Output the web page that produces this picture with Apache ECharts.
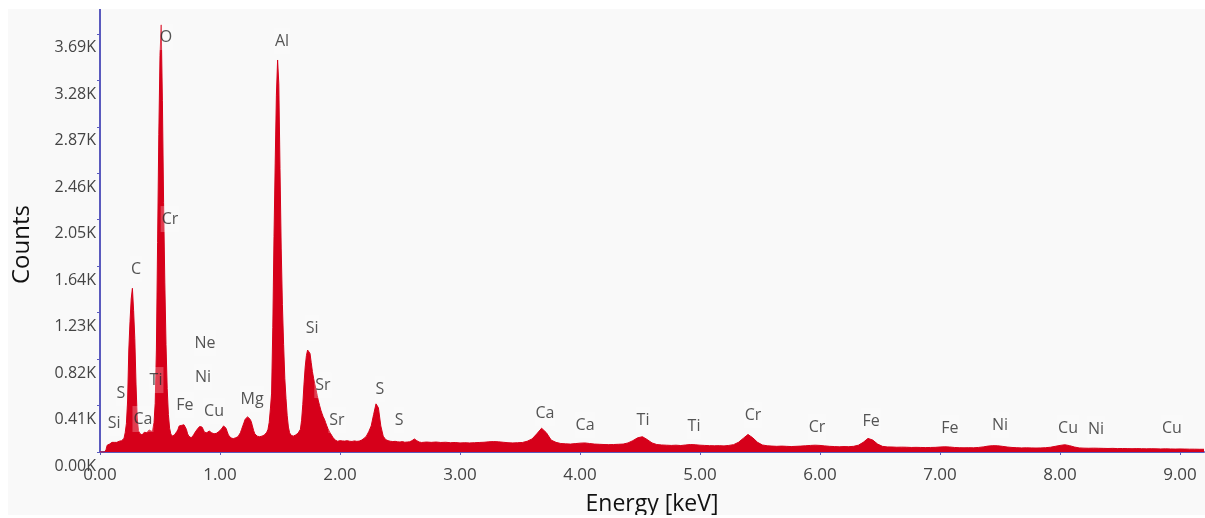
<!DOCTYPE html>
<html>
<head>
<meta charset="utf-8">
<title>EDS spectrum</title>
<script src="https://cdn.jsdelivr.net/npm/echarts@6.0.0/dist/echarts.min.js"></script>
<style>
	html, body { margin: 0; padding: 0; background: #ffffff; }
	#spectrum { position: absolute; left: 8px; top: 9px; width: 1197px; height: 506px; background: #f9f9f9; }
</style>
</head>
<body>
<div id="spectrum"></div>
<script>
// channel calibration of the three parts of the spectrum (keV)
var lowStart = 0.00, lowStep = 0.01;
var midStart = 2.00, midStep = 0.02;
var highStart = 2.72, highStep = 0.04;

// counts 0.00 - 1.99 keV
var countsLow = [
	0, 0, 0, 0, 0, 20, 60, 75, 70, 80,
	85, 80, 85, 90, 85, 90, 95, 90, 100, 110,
	120, 170, 250, 450, 900, 1150, 1350, 1445, 1250, 1000,
	600, 300, 190, 165, 160, 150, 165, 175, 160, 170,
	180, 195, 185, 180, 200, 260, 430, 900, 1850, 2800,
	3500, 3770, 3100, 2200, 1500, 950, 560, 330, 210, 160,
	140, 130, 150, 165, 180, 200, 230, 240, 235, 245,
	240, 230, 200, 160, 140, 130, 125, 135, 150, 170,
	180, 200, 215, 225, 210, 220, 200, 175, 165, 170,
	175, 185, 180, 170, 165, 160, 155, 165, 175, 180,
	190, 200, 215, 230, 225, 210, 180, 150, 135, 125,
	120, 118, 122, 125, 130, 135, 150, 170, 200, 230,
	260, 290, 305, 310, 300, 290, 270, 230, 190, 160,
	150, 140, 135, 135, 138, 140, 145, 150, 160, 175,
	200, 260, 380, 520, 1100, 1900, 2550, 3150, 3460, 3250,
	2500, 1800, 1300, 950, 650, 470, 320, 220, 170, 150,
	140, 140, 145, 150, 155, 165, 180, 200, 280, 420,
	600, 750, 850, 900, 915, 870, 790, 710, 650, 600,
	550, 500, 450, 410, 370, 340, 310, 290, 260, 230,
	205, 185, 165, 150, 130, 115, 105, 100, 95, 92
];
// counts 2.00 - 2.70 keV
var countsMid = [
	100, 98, 96, 100, 95, 93, 98, 94, 96, 105,
	120, 140, 180, 230, 330, 425, 390, 230, 140, 110,
	100, 95, 92, 94, 90, 88, 92, 86, 88, 90,
	100, 115, 100, 88, 84, 86
];
// counts 2.72 - 9.20 keV
var countsHigh = [
	88, 85, 88, 84, 86, 82, 84, 80, 82, 80,
	82, 84, 86, 90, 92, 90, 86, 82, 80, 82,
	84, 95, 115, 160, 210, 170, 105, 85, 75, 72,
	70, 74, 78, 80, 75, 70, 68, 66, 65, 66,
	68, 70, 80, 100, 125, 135, 110, 80, 66, 62,
	60, 58, 60, 57, 62, 66, 64, 60, 58, 56,
	55, 56, 54, 58, 65, 85, 120, 155, 125, 85,
	62, 55, 52, 50, 52, 50, 48, 50, 52, 55,
	58, 60, 58, 54, 50, 48, 46, 48, 47, 50,
	60, 85, 120, 105, 70, 50, 45, 44, 42, 43,
	42, 40, 41, 40, 39, 40, 41, 44, 46, 44,
	40, 38, 37, 38, 37, 40, 45, 52, 56, 55,
	50, 44, 40, 38, 36, 37, 36, 35, 36, 38,
	42, 50, 58, 64, 56, 44, 36, 34, 33, 34,
	33, 32, 31, 32, 30, 31, 30, 29, 30, 29,
	28, 29, 28, 27, 28, 27, 26, 27, 26, 25,
	25, 24, 24
];

// element line labels
var peakNames = ['Si', 'S', 'Ca', 'Ti', 'C', 'Cr', 'O', 'Fe', 'Ne', 'Ni', 'Cu', 'Mg', 'Al', 'Si', 'Sr', 'Sr', 'S', 'S',
	'Ca', 'Ca', 'Ti', 'Ti', 'Cr', 'Cr', 'Fe', 'Fe', 'Ni', 'Cu', 'Ni', 'Cu'];
var peakEnergy = [0.117, 0.175, 0.358, 0.467, 0.30, 0.583, 0.55, 0.708, 0.875, 0.858, 0.95, 1.267, 1.517, 1.767, 1.858, 1.975, 2.333, 2.492,
	3.708, 4.042, 4.525, 4.95, 5.442, 5.975, 6.425, 7.083, 7.5, 8.067, 8.30, 8.933];
var peakCount = [256, 521, 291, 635, 1615, 2056, 3663, 415, 962, 662, 362, 468, 3627, 1094, 591, 282, 556, 282,
	344, 238, 282, 229, 327, 221, 274, 212, 238, 212, 203, 212];

// axes
var yTickStep = 410;
var yMax = 3910;
var xTickStep = 1;
var xMax = 9.2;

var spectrumData = [];
function addPart(start, step, counts) {
	for (var i = 0; i < counts.length; i++) {
		spectrumData.push([+(start + i * step).toFixed(3), counts[i]]);
	}
}
addPart(lowStart, lowStep, countsLow);
addPart(midStart, midStep, countsMid);
addPart(highStart, highStep, countsHigh);

var labelData = [];
for (var k = 0; k < peakNames.length; k++) {
	labelData.push([peakEnergy[k], peakCount[k], peakNames[k]]);
}

var axisColor = '#5a5abe';
var red = '#d6001a';
var font = '"Open Sans", "Noto Sans", sans-serif';

var myChart = echarts.init(document.getElementById('spectrum'));
var option = {
	animation: false,
	grid: {
		left: 92,
		right: 1,
		top: 0,
		bottom: 63,
		outerBoundsMode: 'none',
		containLabel: false
	},
	xAxis: {
		type: 'value',
		min: 0,
		max: xMax,
		interval: xTickStep,
		name: 'Energy [keV]',
		nameLocation: 'middle',
		nameGap: 41,
		nameTextStyle: { fontFamily: font, fontSize: 23, color: '#111' },
		axisLine: { show: true, lineStyle: { color: axisColor, width: 2 } },
		axisTick: { show: true, length: 3, lineStyle: { color: axisColor } },
		splitLine: { show: false },
		axisLabel: {
			showMaxLabel: false,
			margin: 15,
			fontFamily: font,
			fontSize: 17,
			color: '#444',
			formatter: function(v) { return v.toFixed(2); }
		}
	},
	yAxis: {
		type: 'value',
		min: 0,
		max: yMax,
		interval: yTickStep,
		name: 'Counts',
		nameLocation: 'middle',
		nameGap: 66,
		nameTextStyle: { fontFamily: font, fontSize: 24, color: '#111', padding: [0, 28, 0, 0] },
		axisLine: { show: true, lineStyle: { color: axisColor, width: 2 } },
		axisTick: { show: true, length: 3, lineStyle: { color: axisColor } },
		splitLine: { show: false },
		axisLabel: {
			showMaxLabel: false,
			margin: 4,
			verticalAlign: 'top',
			padding: [6, 0, 0, 0],
			fontFamily: font,
			fontSize: 16,
			color: '#444',
			formatter: function(v) { return (v / 1000).toFixed(2) + 'K'; }
		}
	},
	series: [
		{
			name: 'spectrum',
			type: 'line',
			data: spectrumData,
			showSymbol: false,
			symbol: 'none',
			lineStyle: { color: red, width: 1 },
			areaStyle: { color: red, opacity: 1 },
			z: 2
		},
		{
			name: 'lines',
			type: 'scatter',
			data: labelData,
			symbolSize: 1,
			itemStyle: { color: 'rgba(0,0,0,0)' },
			label: {
				show: true,
				position: 'inside',
				fontFamily: font,
				fontSize: 16,
				color: '#2b2b2b',
				backgroundColor: 'rgba(255,255,255,0.3)',
				padding: [5, 1],
				formatter: function(p) { return p.data[2]; }
			},
			labelLayout: { hideOverlap: false },
			z: 5
		}
	]
};
myChart.setOption(option);
</script>
</body>
</html>
